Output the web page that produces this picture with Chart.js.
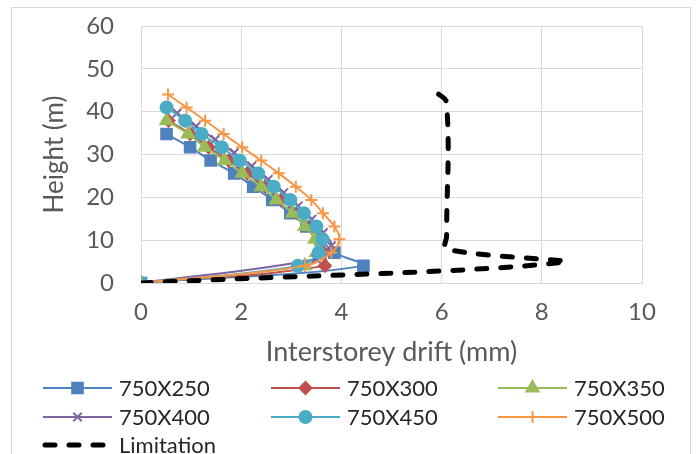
<!DOCTYPE html>
<html>
<head>
<meta charset="utf-8">
<script src="https://cdn.jsdelivr.net/npm/chart.js@4/dist/chart.umd.min.js"></script>
<style>
  html, body { margin: 0; padding: 0; background: #fff; }
  #wrap { width: 696px; height: 454px; }
</style>
</head>
<body>
<div id="wrap"><canvas id="c" width="696" height="454"></canvas></div>
<script>
// storey levels (m)
const levels = [0, 4.0, 7.1, 10.2, 13.2, 16.3, 19.4, 22.5, 25.6, 28.6, 31.7, 34.8, 37.9, 41.0, 44.0];
const levels400 = [0, 5.6, 8.7, 11.8, 14.9, 18.0, 21.1, 24.2, 27.3, 30.4, 33.5, 36.6, 39.7];

// interstorey drift (mm) per section
const drift250 = [0, 4.44, 3.86, 3.58, 3.30, 2.98, 2.62, 2.24, 1.86, 1.39, 0.98, 0.51];
const drift300 = [0, 3.67, 3.65, 3.60, 3.38, 3.12, 2.80, 2.48, 2.12, 1.75, 1.35, 0.98, 0.55];
const drift350 = [0, 3.27, 3.50, 3.47, 3.27, 3.03, 2.70, 2.40, 2.02, 1.67, 1.27, 0.94, 0.51];
const drift400 = [0, 3.50, 3.80, 3.64, 3.41, 3.14, 2.85, 2.54, 2.21, 1.86, 1.48, 1.10, 0.72];
const drift450 = [0, 3.13, 3.55, 3.62, 3.50, 3.25, 2.98, 2.65, 2.34, 1.97, 1.61, 1.21, 0.88, 0.51];
const drift500 = [0, 3.27, 3.80, 3.96, 3.86, 3.63, 3.40, 3.09, 2.75, 2.40, 2.02, 1.65, 1.28, 0.91, 0.54];

// limitation line
const limitDrift  = [0, 8.4, 6.1, 6.1, 6.1, 5.9];
const limitHeight = [0, 4.8, 7.9, 11.0, 42.0, 44.5];

const labels = ['750X250', '750X300', '750X350', '750X400', '750X450', '750X500', 'Limitation'];

const FONT = 'Lato, Carlito, "Open Sans", sans-serif';
const TXT = '#595959';
const GRID = '#d9d9d9';

function pts(xs, ys) {
  return xs.map((x, i) => ({ x, y: ys[i] }));
}

function series(label, xs, ys, color, style, radius, order) {
  return {
    label,
    data: pts(xs, ys),
    showLine: true,
    tension: 0.4,
    borderColor: color,
    backgroundColor: color,
    borderWidth: 2,
    pointStyle: style,
    pointRadius: radius,
    pointBorderWidth: 2,
    pointBorderColor: color,
    pointBackgroundColor: color,
    order,
  };
}

// ── 바깥 테두리 ──
const framePlugin = {
  id: 'frame',
  beforeDraw(chart) {
    const ctx = chart.ctx;
    ctx.save();
    ctx.fillStyle = '#fff';
    ctx.fillRect(0, 0, chart.width, chart.height);
    ctx.strokeStyle = GRID;
    ctx.lineWidth = 1;
    ctx.strokeRect(11.5, 7.5, 679, 470);
    ctx.restore();
  },
};

// ── 범례 (3열) ──
const legendPlugin = {
  id: 'sheetLegend',
  afterDraw(chart) {
    const ctx = chart.ctx;
    const colX = [43, 271, 498];
    const rowY = [388, 417, 445];
    chart.data.datasets.forEach((ds, i) => {
      const x0 = colX[i % 3];
      const y = rowY[Math.floor(i / 3)];
      ctx.save();
      ctx.strokeStyle = ds.borderColor;
      ctx.fillStyle = ds.borderColor;
      if (ds.borderDash) {
        ctx.lineWidth = ds.borderWidth;
        ctx.lineCap = 'round';
        ctx.setLineDash(ds.borderDash);
        ctx.beginPath();
        ctx.moveTo(x0 + 2, y);
        ctx.lineTo(x0 + 66, y);
        ctx.stroke();
      } else {
        ctx.lineWidth = 2;
        ctx.beginPath();
        ctx.moveTo(x0, y);
        ctx.lineTo(x0 + 69, y);
        ctx.stroke();
        Chart.helpers.drawPoint(ctx, {
          pointStyle: ds.pointStyle,
          radius: ds.pointRadius,
          borderWidth: ds.pointBorderWidth,
          rotation: 0,
        }, x0 + 34.5, y);
      }
      ctx.setLineDash([]);
      ctx.fillStyle = '#262626';
      ctx.font = '22px ' + FONT;
      ctx.textAlign = 'left';
      ctx.textBaseline = 'middle';
      ctx.fillText(ds.label, x0 + 76, y + 1);
      ctx.restore();
    });
  },
};

const datasets = [
  series(labels[0], drift250, levels, '#4f81bd', 'rect', 7.5, 7),
  series(labels[1], drift300, levels, '#c0504d', 'rectRot', 6, 6),
  series(labels[2], drift350, levels, '#9bbb59', 'triangle', 7, 5),
  series(labels[3], drift400, levels400, '#8064a2', 'crossRot', 6, 4),
  series(labels[4], drift450, levels, '#4bacc6', 'circle', 6, 3),
  series(labels[5], drift500, levels, '#f79646', 'cross', 6, 2),
  {
    label: labels[6],
    data: pts(limitDrift, limitHeight),
    showLine: true,
    tension: 0.4,
    borderColor: '#000',
    backgroundColor: '#000',
    borderWidth: 5,
    borderDash: [10, 14],
    borderCapStyle: 'round',
    pointRadius: 0,
    order: 1,
  },
];

new Chart(document.getElementById('c'), {
  type: 'scatter',
  data: { datasets },
  plugins: [framePlugin, legendPlugin],
  options: {
    responsive: false,
    animation: false,
    events: [],
    layout: { padding: { left: 12, top: 26, right: 54, bottom: 86 } },
    plugins: {
      legend: { display: false },
      tooltip: { enabled: false },
    },
    scales: {
      x: {
        type: 'linear',
        min: 0,
        max: 10,
        ticks: { stepSize: 2, color: TXT, padding: 0, font: { family: FONT, size: 24 } },
        // 투명 눈금으로 라벨 간격만 확보
        grid: { color: GRID, lineWidth: 1, drawTicks: true, tickLength: 15, tickColor: 'rgba(0,0,0,0)' },
        border: { color: GRID },
        title: {
          display: true,
          text: 'Interstorey drift (mm)',
          color: TXT,
          font: { family: FONT, size: 27 },
          padding: 0,
        },
        afterFit(scale) { scale.height = 85; },
      },
      y: {
        type: 'linear',
        min: 0,
        max: 60,
        ticks: { stepSize: 10, color: TXT, padding: 0, font: { family: FONT, size: 24 } },
        grid: { color: GRID, lineWidth: 1, drawTicks: true, tickLength: 27, tickColor: 'rgba(0,0,0,0)' },
        border: { color: GRID },
        title: {
          display: true,
          text: 'Height (m)',
          color: TXT,
          font: { family: FONT, size: 26 },
          padding: { top: 27, bottom: 0 },
        },
        afterFit(scale) { scale.width = 129; },
      },
    },
  },
});
</script>
</body>
</html>
